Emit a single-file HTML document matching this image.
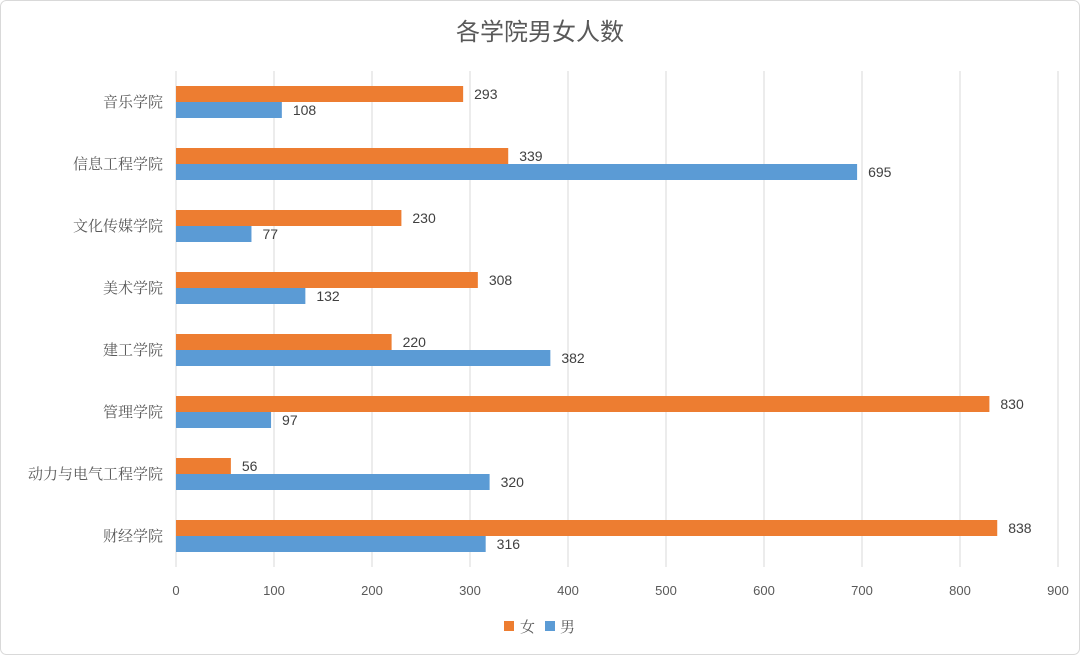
<!DOCTYPE html>
<html><head><meta charset="utf-8"><style>
body{margin:0;background:#fff;}
svg{display:block;}
</style></head><body>
<svg id="c" width="1080" height="655" xmlns="http://www.w3.org/2000/svg">
<rect x="0.5" y="0.5" width="1079" height="654" rx="6" fill="#fff" stroke="#d9d9d9"/>
<text x="540" y="40" text-anchor="middle" font-family="'Liberation Sans','Noto Sans CJK SC',sans-serif" font-size="24" fill="#595959">各学院男女人数</text>
<g id="grid"></g><g id="bars"></g><g id="labels"></g>
<g>
<rect x="504" y="621" width="10" height="10" fill="#ED7D31"/>
<text x="520" y="632" font-family="'Liberation Sans','Noto Serif CJK SC',serif" font-size="15" fill="#595959">女</text>
<rect x="545" y="621" width="10" height="10" fill="#5B9BD5"/>
<text x="560" y="632" font-family="'Liberation Sans','Noto Serif CJK SC',serif" font-size="15" fill="#595959">男</text>
</g>
</svg>
<script>
const categories=["音乐学院","信息工程学院","文化传媒学院","美术学院","建工学院","管理学院","动力与电气工程学院","财经学院"];
const female=[293,339,230,308,220,830,56,838];
const male=[108,695,77,132,382,97,320,316];
const ticks=[0,100,200,300,400,500,600,700,800,900];
const NS="http://www.w3.org/2000/svg";
const x0=176,x1=1058,maxV=900,plotTop=71,plotBottom=567;
const xs=v=>x0+(x1-x0)*v/maxV;
const bandH=(plotBottom-plotTop)/categories.length;
const yc=i=>plotTop+bandH*(i+0.5);
function mk(t,a,p){const e=document.createElementNS(NS,t);for(const k in a)e.setAttribute(k,a[k]);p.appendChild(e);return e;}
const gG=document.getElementById('grid'),gB=document.getElementById('bars'),gL=document.getElementById('labels');
ticks.forEach(t=>{
 const ln=mk('line',{x1:xs(t),x2:xs(t),y1:plotTop,y2:plotBottom,stroke:'#d9d9d9','stroke-width':1},gG);
 
 
 const tx=mk('text',{x:xs(t),y:595,'text-anchor':'middle','font-family':'Liberation Sans,sans-serif','font-size':13,fill:'#595959'},gG);
 tx.textContent=t;
 
 
});
const bh=16;
categories.forEach((c,i)=>{
 const y=yc(i);
 const ct=mk('text',{x:163,y:y+5,'text-anchor':'end','font-family':"'Liberation Serif','Noto Serif CJK SC',serif",'font-size':15,fill:'#595959'},gL);
 ct.textContent=c;
 
 
 [[female,'#ED7D31',y-bh,'female'],[male,'#5B9BD5',y,'male']].forEach(([arr,col,yy,nm])=>{
  const r=mk('rect',{x:x0,y:yy,width:xs(arr[i])-x0,height:bh,fill:col},gB);
  
  
  const v=mk('text',{x:xs(arr[i])+11,y:yy+bh/2+5,'font-family':'Liberation Sans,sans-serif','font-size':14,fill:'#404040'},gL);
  v.textContent=arr[i];
  
  
 });
});
</script>
</body></html>
